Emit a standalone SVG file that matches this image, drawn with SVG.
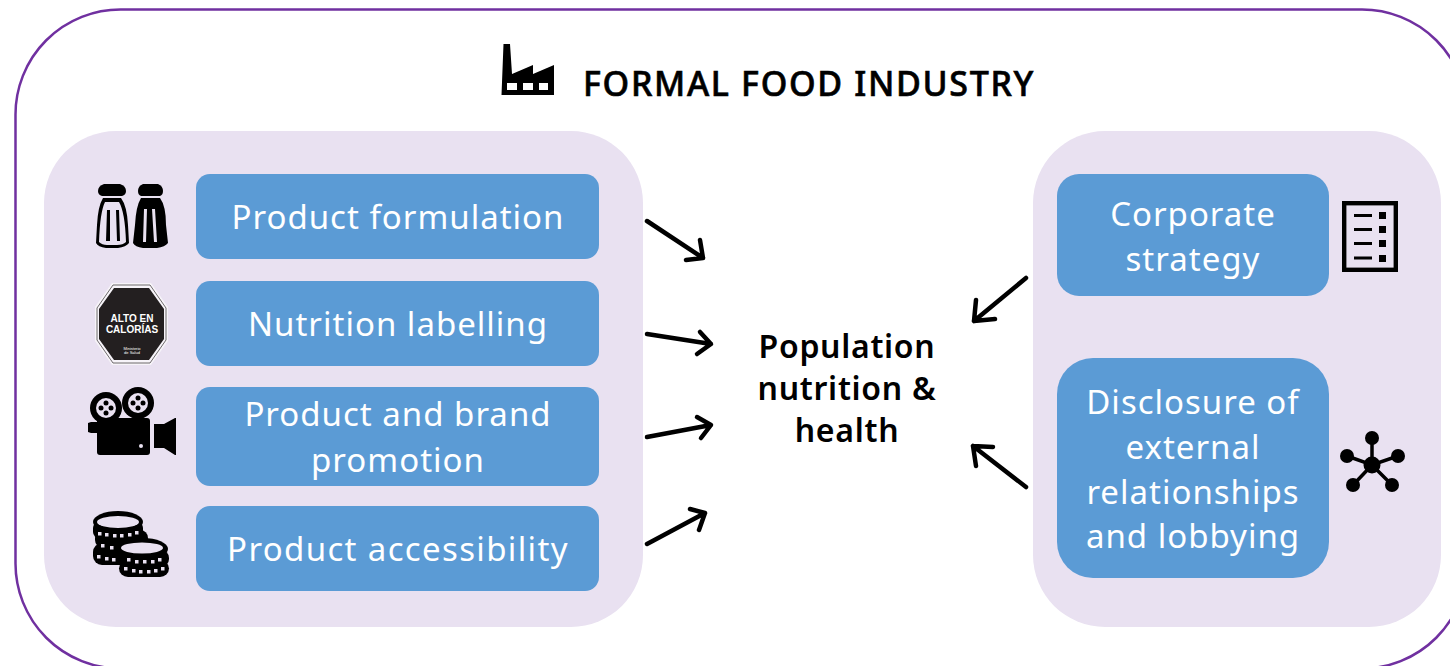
<svg xmlns="http://www.w3.org/2000/svg" width="1450" height="666" viewBox="0 0 1450 666">
<style>
.panel{fill:#e9e1f1}
.box{fill:#5b9bd5}
.lbl{font-family:"Noto Sans","Open Sans",sans-serif;font-size:33px;fill:#fff;text-anchor:middle;letter-spacing:1px}
.ctr{font-family:"Noto Sans","Open Sans",sans-serif;font-size:32px;font-weight:600;fill:#000;text-anchor:middle;letter-spacing:.7px}
.arr{fill:none;stroke:#000;stroke-width:4.500;stroke-linecap:round;stroke-linejoin:round}
.lt{fill:#e9e1f1}
.sg{font-family:"Liberation Sans",sans-serif;fill:#fff;text-anchor:middle}
</style>
<rect width="1450" height="666" fill="#fff"/>
<rect id="frame" x="15.500" y="9.500" width="1451.500" height="659" rx="105" ry="105" fill="#fff" stroke="#7030a0" stroke-width="2.500"/>
<g id="title">
<path d="M501.500 95L503.500 44H510L512 74L533 65V74L554 65V95Z M507 83V90H517V83Z M523 83V90H533V83Z M539 83V90H548V83Z" fill="#000" fill-rule="evenodd"/>
<text x="583" y="95.500" font-family="'Noto Sans','Open Sans',sans-serif" font-size="34" font-weight="500" letter-spacing="1.650" fill="#000" stroke="#000" stroke-width=".6">FORMAL FOOD INDUSTRY</text>
</g>
<rect class="panel" x="44" y="131" width="599" height="496" rx="72"/>
<rect class="panel" x="1033" y="131" width="408" height="496" rx="72"/>
<g id="n-formulation"><rect class="box" x="196" y="174" width="403" height="85" rx="14"/><text class="lbl" x="398" y="229">Product formulation</text></g>
<g id="n-labelling"><rect class="box" x="196" y="281" width="403" height="85" rx="14"/><text class="lbl" x="398" y="336">Nutrition labelling</text></g>
<g id="n-promotion"><rect class="box" x="196" y="387" width="403" height="99" rx="14"/><text class="lbl" x="398" y="426">Product and brand</text><text class="lbl" x="398" y="472">promotion</text></g>
<g id="n-accessibility"><rect class="box" x="196" y="506" width="403" height="85" rx="14"/><text class="lbl" x="398" y="561" style="letter-spacing:1.350px">Product accessibility</text></g>
<g id="n-strategy"><rect class="box" x="1057" y="174" width="272" height="122" rx="22"/><text class="lbl" x="1193" y="226">Corporate</text><text class="lbl" x="1193" y="271">strategy</text></g>
<g id="n-disclosure"><rect class="box" x="1057" y="358" width="272" height="220" rx="36"/><text class="lbl" x="1193" y="414">Disclosure of</text><text class="lbl" x="1193" y="459">external</text><text class="lbl" x="1193" y="504">relationships</text><text class="lbl" x="1193" y="548">and lobbying</text></g>
<g id="n-health"><text class="ctr" x="847" y="358">Population</text><text class="ctr" x="847" y="400">nutrition &amp;</text><text class="ctr" x="847" y="442">health</text></g>
<g id="connectors">
<path class="arr" d="M647 221L703 258M686 260L703 258L700 240"/>
<path class="arr" d="M647 334L711 344M697 354L711 344L700 332"/>
<path class="arr" d="M647 437L711 425M701 438L711 425L697 417"/>
<path class="arr" d="M647 544L705 513M690 509L705 513L699 530"/>
<path class="arr" d="M1026 278L974 321M995 319L974 321L976 300"/>
<path class="arr" d="M1026 487L973 446M976 466L973 446L993 447"/>
</g>
<g id="icon-shakers">
<g fill="#000" fill-rule="evenodd">
<path d="M104 184H120Q126 186 126 191Q126 195 122 196H102Q98 195 98 191Q98 186 104 184Z"/>
<path d="M103 198H121Q127 206 128 225L129 243Q126 247 118 248H106Q98 247 96 243L97 225Q98 206 103 198Z M105 202Q100 212 99 242Q102 245 107 245H117Q123 245 126 242Q125 212 119 202Z"/>
<path d="M107 210H110V241H106Z M116 210H119L120 241H117Z"/>
<path d="M143 184H158Q163 186 163 191Q163 195 160 196H141Q138 195 138 191Q138 186 143 184Z"/>
<path d="M141 198H160Q166 206 166 225L168 243Q165 247 157 248H143Q135 247 133 243L135 225Q136 206 141 198Z"/>
</g>
<path class="lt" d="M144 209H147L146 242H143Z M152 209H155L157 242H154Z"/>
</g>
<g id="icon-label">
<polygon points="112,283 151,283 168,307 168,341 151,365 112,365 95,341 95,307" fill="#f7f4f9"/>
<polygon points="113,285 150,285 166,308 166,340 150,363 113,363 97,340 97,308" fill="none" stroke="#4a4648" stroke-width=".8"/>
<polygon points="114,288 149,288 164,309 164,339 149,360 114,360 99,339 99,309" fill="#231f20"/>
<text class="sg" x="132" y="322" font-size="10" font-weight="700">ALTO EN</text>
<text class="sg" x="132" y="333" font-size="10" font-weight="700">CALORÍAS</text>
<text class="sg" x="132" y="350" font-size="4">Ministerio</text>
<text class="sg" x="132" y="354" font-size="4">de Salud</text>
</g>
<g id="icon-camera" fill="#000">
<circle cx="106" cy="408" r="16"/><circle cx="138" cy="403" r="16"/>
<rect x="97" y="418" width="53" height="37" rx="3"/>
<path d="M88 423L91 422H97V433H91L88 432Z"/>
<path d="M154 424H164L175 418H176V455H175L164 448H154Z"/>
<g class="lt"><circle cx="106" cy="408" r="10"/><circle cx="138" cy="403" r="10"/><circle cx="141" cy="446" r="2"/></g>
<circle cx="106" cy="403" r="2.500"/><circle cx="101" cy="408" r="2.500"/><circle cx="111" cy="408" r="2.500"/><circle cx="106" cy="413" r="2.500"/>
<circle cx="138" cy="398" r="2.500"/><circle cx="133" cy="403" r="2.500"/><circle cx="143" cy="403" r="2.500"/><circle cx="138" cy="408" r="2.500"/>
</g>
<g id="icon-coins">
<g fill="#000">
<ellipse cx="118" cy="522" rx="25" ry="11"/>
<rect x="93" y="522" width="50" height="16" rx="6"/>
<rect x="95" y="530" width="53" height="18" rx="8"/>
<rect x="93" y="543" width="54" height="22" rx="9"/>
<ellipse cx="143" cy="549" rx="25" ry="11"/>
<rect x="119" y="550" width="50" height="17" rx="8"/>
<rect x="119" y="560" width="50" height="17" rx="9"/>
</g>
<ellipse cx="118" cy="522" rx="21" ry="6" class="lt"/>
<ellipse cx="142" cy="548" rx="21" ry="5.500" class="lt"/>
<path class="lt" d="M98 532h3.500v3.500h-3.500zM105 533h3.500v3.500h-3.500zM113 534h3.500v3.500h-3.500zM120 534h3.500v3.500h-3.500zM128 533h3.500v3.500h-3.500zM135 531h3.500v3.500h-3.500zM101 544h3.500v3.500h-3.500zM110 546h3.500v3.500h-3.500zM97 555h3.500v3.500h-3.500zM105 557h3.500v3.500h-3.500zM112 558h3.500v3.500h-3.500zM127 558h3.500v3.500h-3.500zM135 560h3.500v3.500h-3.500zM143 560h3.500v3.500h-3.500zM151 560h3.500v3.500h-3.500zM158 558h3.500v3.500h-3.500zM124 567h3.500v3.500h-3.500zM132 569h3.500v3.500h-3.500zM139 570h3.500v3.500h-3.500zM147 570h3.500v3.500h-3.500zM154 569h3.500v3.500h-3.500zM161 567h3.500v3.500h-3.500z"/>
</g>
<g id="icon-list">
<rect x="1344.200" y="203.200" width="51.600" height="66.600" fill="none" stroke="#000" stroke-width="4.400"/>
<path d="M1354 215.500H1372M1354 229.500H1372M1354 243.500H1372M1354 258H1372" stroke="#000" stroke-width="3.200" fill="none"/>
<path d="M1379 212H1386V219H1379ZM1379 226H1386V233H1379ZM1379 240H1386V247H1379ZM1379 255H1386V262H1379Z" fill="#000"/>
</g>
<g id="icon-network">
<path d="M1372 438V465M1347 456L1372 465L1398 456M1353 485L1372 465L1392 485" stroke="#000" stroke-width="3.500" fill="none"/>
<g fill="#000"><circle cx="1372" cy="465" r="8.500"/><circle cx="1372" cy="438" r="7"/><circle cx="1347" cy="456" r="7"/><circle cx="1398" cy="456" r="7"/><circle cx="1353" cy="485" r="7"/><circle cx="1392" cy="485" r="7"/></g>
</g>
</svg>
